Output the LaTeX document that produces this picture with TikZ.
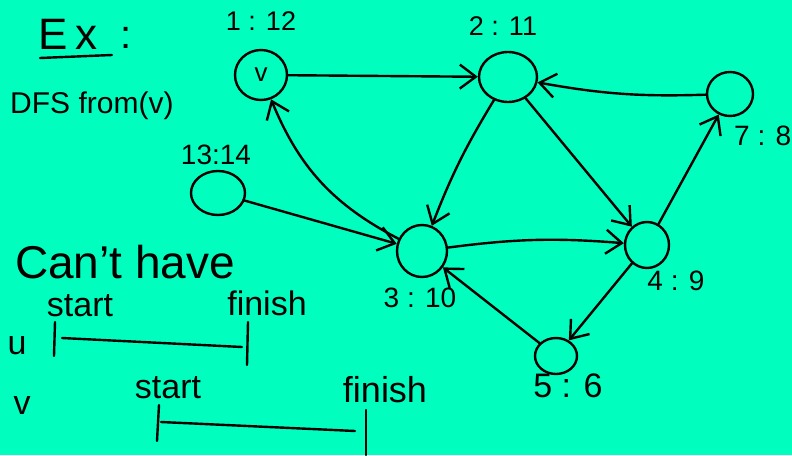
\documentclass[tikz,border=0pt]{standalone}
\usepackage{fontspec}
\setmainfont{Liberation Sans}
\usetikzlibrary{shapes.geometric,arrows.meta}
\definecolor{bg}{RGB}{0,255,191}
\newcommand{\fs}[1]{\fontsize{#1}{#1}\selectfont}
\begin{document}
\begin{tikzpicture}[x=1pt,y=-1pt,
  ln/.style={line width=2.4pt, line cap=round, line join=round},
  vtx/.style={ellipse, draw, line width=2.4pt, inner sep=0pt},
  edge/.style={ln, -{Straight Barb[length=16pt,width=24pt,line width=2.4pt]}},
  lbl/.style={font=\fs{27}, inner sep=0pt},
  txt/.style={inner sep=0pt},
]
\fill[bg] (0,0) rectangle (792,455);
\useasboundingbox (0,0) rectangle (792,455);

% vertices
\node[vtx, minimum width=52pt, minimum height=50pt] (v) at (261,75) {\fs{26}v};
\node[vtx, minimum width=58pt, minimum height=50pt] (n2) at (508,77) {};
\node[vtx, minimum width=46pt, minimum height=44pt] (n7) at (730,94) {};
\node[vtx, minimum width=50pt, minimum height=52pt] (n3) at (422,251) {};
\node[vtx, minimum width=44pt, minimum height=46pt] (n4) at (647,245) {};
\node[vtx, minimum width=42pt, minimum height=36pt] (n5) at (556,356) {};
\node[vtx, minimum width=54pt, minimum height=44pt] (n13) at (218,193) {};

% vertex labels
\node[lbl] (l1) at (261,21) {1 : 12};
\node[lbl] (l2) at (503,26) {2 : 11};
\node[lbl, font=\fs{28}] (l13) at (216,155) {13:14};
\node[lbl, font=\fs{28}] (l3) at (420,298) {3 : 10};
\node[lbl, font=\fs{28}] (l4) at (676,281) {4 : 9};
\node[lbl, font=\fs{34}] (l5) at (568,386) {5 : 6};
\node[lbl, font=\fs{28}, anchor=west] (l7) at (734,136) {7 : 8};

% edges
\draw[edge] (v) -- (n2);
\draw[edge] (n7) to[bend left=6] (n2);
\draw[edge] (n2) to[bend right=5] (n3);
\draw[edge] (n2) -- (n4);
\draw[edge] (n3) to[bend left=6] (n4);
\draw[edge] (n4) -- (n7);
\draw[edge] (n4) -- (n5);
\draw[edge] (n5) -- (n3);
\draw[edge] (n3) to[bend left=20] (v);
\draw[edge] (n13) -- (n3);

% notes
\node[txt, font=\fs{44}] (ex) at (68,34) {E\kern8pt x};
\node[txt, font=\fs{40}] (colon) at (126,38) {:};
\draw[ln] (40,58) -- (112,55);
\node[txt, font=\fs{30}, anchor=west] (dfs) at (10,106) {DFS from(v)};
\node[txt, font=\fs{46}, anchor=west] (cant) at (15,262) {Can't have};

% intervals
\node[txt, font=\fs{34}] (u) at (17,346) {u};
\node[txt, font=\fs{34}] (vv) at (22,406) {v};
\node[txt, font=\fs{34}] (s1) at (80,306) {start};
\node[txt, font=\fs{34}] (f1) at (267,303) {finish};
\draw[ln] (55,322) -- (54,356);
\draw[ln] (62,338) -- (242,347);
\draw[ln] (248,322) -- (247,365);
\node[txt, font=\fs{34}] (s2) at (168,388) {start};
\node[txt, font=\fs{36}] (f2) at (385,390) {finish};
\draw[ln] (159,405) -- (157,441);
\draw[ln] (161,422) -- (355,431);
\draw[ln] (366,410) -- (366,455);
\end{tikzpicture}
\end{document}
